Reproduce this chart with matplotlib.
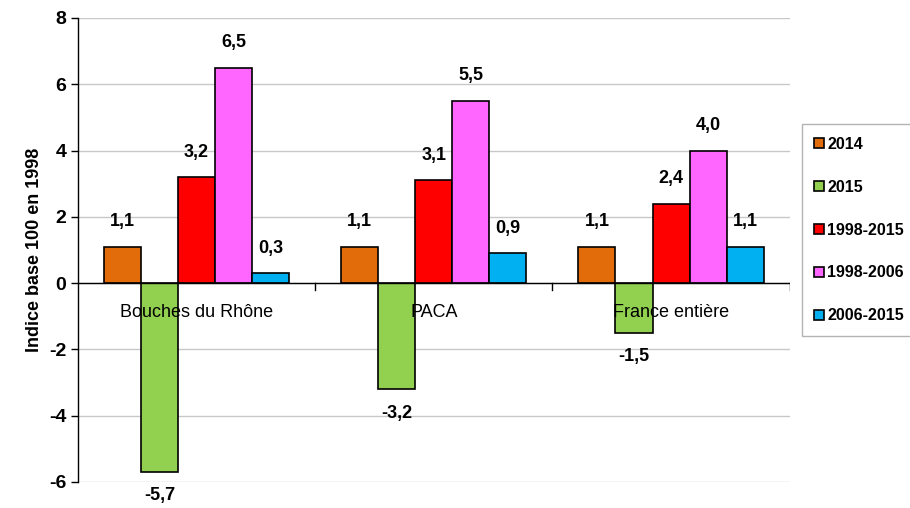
import numpy as np
import matplotlib
matplotlib.use('Agg')
import matplotlib.pyplot as plt

plt.rcParams['font.family'] = ['Liberation Sans', 'DejaVu Sans']
plt.rcParams['axes.unicode_minus'] = False

# données
regions = ["Bouches du Rhône", "PACA", "France entière"]
periodes = ["2014", "2015", "1998-2015", "1998-2006", "2006-2015"]
v_2014 = [1.1, 1.1, 1.1]
v_2015 = [-5.7, -3.2, -1.5]
v_1998_2015 = [3.2, 3.1, 2.4]
v_1998_2006 = [6.5, 5.5, 4.0]
v_2006_2015 = [0.3, 0.9, 1.1]
series = [v_2014, v_2015, v_1998_2015, v_1998_2006, v_2006_2015]
couleurs = ["#E36C0A", "#92D050", "#FF0000", "#FF66FF", "#00B0F0"]

fig = plt.figure(figsize=(9.1, 5.08), dpi=100)
ax = fig.add_axes([0.0857, 0.0512, 0.782, 0.9134])

w = 0.156
x = np.arange(len(regions))
for i, (vals, c, lab) in enumerate(zip(series, couleurs, periodes)):
    pos = x + (i - 2) * w
    ax.bar(pos, vals, w, color=c, edgecolor='black', linewidth=1.2,
           label=lab, zorder=3)
    for p, v in zip(pos, vals):
        off = 0.75 if v >= 0 else -0.72
        ax.text(p, v + off, f"{v:.1f}".replace('.', ','), ha='center',
                va='center', fontsize=13, fontweight='bold')

ax.set_xlim(-0.5, 2.5)
ax.set_ylim(-6, 8)
ax.set_yticks(range(-6, 9, 2))
ax.yaxis.grid(True, color='#c8c8c8', linewidth=1, zorder=0)
ax.set_axisbelow(True)
for s in ['top', 'right', 'bottom']:
    ax.spines[s].set_visible(False)
ax.spines['left'].set_linewidth(1)
ax.tick_params(axis='y', labelsize=14, length=5, width=1)
for t in ax.get_yticklabels():
    t.set_fontweight('bold')
ax.set_xticks([])
ax.axhline(0, color='black', linewidth=1, zorder=4)
for b in [0.5, 1.5, 2.5]:
    ax.plot([b, b], [0, -0.2], color='black', linewidth=1, zorder=4)
for xi, r in zip(x, regions):
    ax.text(xi, -0.9, r, ha='center', va='center', fontsize=13, zorder=5)

ax.set_ylabel("Indice base 100 en 1998", fontsize=13, fontweight='bold',
              labelpad=4)

leg = ax.legend(loc='center left', bbox_to_anchor=(1.01, 0.543),
                frameon=True, fancybox=False, edgecolor='#a0a0a0',
                labelspacing=1.75, handlelength=0.6, handleheight=0.6,
                handletextpad=0.2, borderpad=0.8, borderaxespad=0.3,
                prop={'weight': 'bold', 'size': 11.5})
leg.get_frame().set_linewidth(1)

fig.savefig("out.png", dpi=100)
